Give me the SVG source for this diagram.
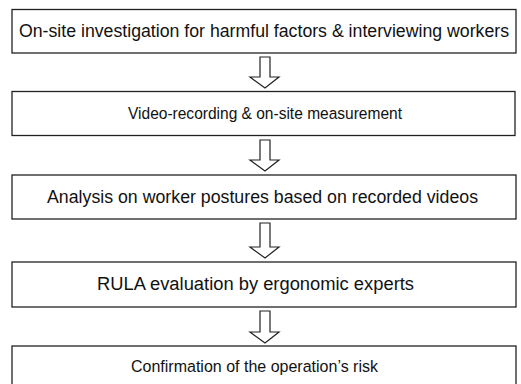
<svg xmlns="http://www.w3.org/2000/svg" width="521" height="384" viewBox="0 0 521 384">
<style>
.box{fill:#fff;stroke:#222;stroke-width:1.3}
.lbl{font-family:"Liberation Sans",Arial,sans-serif;fill:#111;dominant-baseline:central}
.arr{fill:#fff;stroke:#222;stroke-width:1.2;stroke-linejoin:miter}
</style>
<rect width="521" height="384" fill="#fff"/>
<g id="connectors">
<path class="arr" d="M260,57 H270 V77 H279 L265,88 L250,77 H260 Z"/>
<path class="arr" d="M260,140 H270 V160 H279 L265,171 L250,160 H260 Z"/>
<path class="arr" d="M260,223 H270 V247 H279 L265,258 L250,247 H260 Z"/>
<path class="arr" d="M260,311 H270 V332 H279 L265,343 L250,332 H260 Z"/>
</g>
<g id="n1"><rect class="box" x="12" y="9.5" width="504" height="43.5"/><text class="lbl" x="19" y="31" font-size="17.5" textLength="490" lengthAdjust="spacingAndGlyphs">On-site investigation for harmful factors &amp; interviewing workers</text></g>
<g id="n2"><rect class="box" x="12" y="91.5" width="503" height="44"/><text class="lbl" x="128" y="113.5" font-size="16.8" textLength="274" lengthAdjust="spacingAndGlyphs">Video-recording &amp; on-site measurement</text></g>
<g id="n3"><rect class="box" x="12" y="175" width="504" height="44"/><text class="lbl" x="47" y="197" font-size="17.5" textLength="431" lengthAdjust="spacingAndGlyphs">Analysis on worker postures based on recorded videos</text></g>
<g id="n4"><rect class="box" x="12" y="262" width="504" height="45"/><text class="lbl" x="97" y="284" font-size="18" textLength="317" lengthAdjust="spacingAndGlyphs">RULA evaluation by ergonomic experts</text></g>
<g id="n5"><rect class="box" x="12" y="346" width="504" height="46"/><text class="lbl" x="131" y="366" font-size="16.8" textLength="247" lengthAdjust="spacingAndGlyphs">Confirmation of the operation’s risk</text></g>
</svg>
